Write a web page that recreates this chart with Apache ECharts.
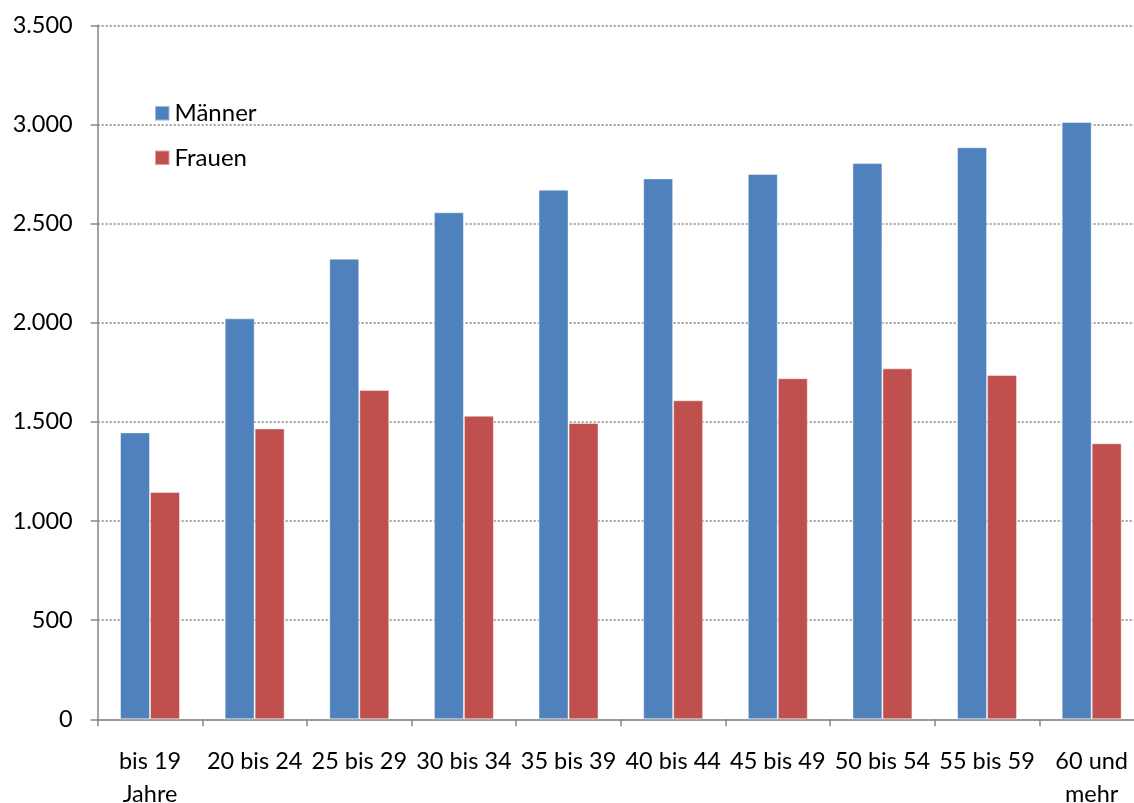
<!DOCTYPE html>
<html>
<head>
<meta charset="utf-8">
<script src="https://cdn.jsdelivr.net/npm/echarts@6/dist/echarts.min.js"></script>
<style>
  html, body { margin: 0; padding: 0; background: #fff; }
  #chart { width: 1134px; height: 803px; }
</style>
</head>
<body>
<div id="chart"></div>
<script>
// Altersgruppen
const categories = ['bis 19\nJahre', '20 bis 24', '25 bis 29', '30 bis 34', '35 bis 39',
  '40 bis 44', '45 bis 49', '50 bis 54', '55 bis 59', '60 und\nmehr'];
const maenner = [1447, 2022, 2323, 2557, 2671, 2728, 2750, 2805, 2885, 3012];
const frauen  = [1146, 1467, 1661, 1531, 1494, 1609, 1720, 1770, 1736, 1392];
const seriesNames = ['Männer', 'Frauen'];

const FONT = 'Lato, "Open Sans", sans-serif';
const AXIS_GRAY = '#868686';

// thousands separator "." (German style)
function fmt(v) {
  return String(v).replace(/\B(?=(\d{3})+(?!\d))/g, '.');
}

const chart = echarts.init(document.getElementById('chart'), null, { renderer: 'canvas' });
chart.setOption({
  animation: false,
  backgroundColor: '#ffffff',
  textStyle: { fontFamily: FONT },
  grid: { left: 97.7, right: -10, top: 25.3, bottom: 83.7, outerBoundsMode: 'none' },
  legend: {
    orient: 'vertical',
    left: 154,
    top: 98.3,
    padding: 0,
    itemWidth: 14.5,
    itemHeight: 14.5,
    itemGap: 14.5,
    icon: 'rect',
    textStyle: { fontFamily: FONT, fontSize: 24, lineHeight: 30, color: '#000' },
    data: seriesNames
  },
  xAxis: {
    type: 'category',
    data: categories,
    axisLine: { show: true, lineStyle: { color: AXIS_GRAY, width: 1.5 } },
    axisTick: { show: true, interval: 0, length: 7, lineStyle: { color: AXIS_GRAY, width: 1.5 } },
    axisLabel: {
      interval: 0,
      margin: 26,
      fontFamily: FONT,
      fontSize: 23.5,
      color: '#000',
      lineHeight: 33
    }
  },
  yAxis: {
    type: 'value',
    min: 0,
    max: 3500,
    interval: 500,
    axisLine: { show: true, lineStyle: { color: AXIS_GRAY, width: 1.5 } },
    axisTick: { show: true, length: 7, lineStyle: { color: AXIS_GRAY, width: 1.5 } },
    axisLabel: {
      margin: 25,
      fontFamily: FONT,
      fontSize: 23.5,
      color: '#000',
      formatter: fmt
    },
    splitLine: {
      show: true,
      lineStyle: { color: AXIS_GRAY, width: 1.5, type: [2, 2] }
    }
  },
  series: [
    {
      name: seriesNames[0],
      type: 'bar',
      data: maenner,
      barWidth: 30,
      barGap: '0%',
      itemStyle: { color: '#4F81BD', borderColor: 'rgba(255,255,255,0.45)', borderWidth: 1 }
    },
    {
      name: seriesNames[1],
      type: 'bar',
      data: frauen,
      barWidth: 30,
      barGap: '0%',
      itemStyle: { color: '#C0504D', borderColor: 'rgba(255,255,255,0.45)', borderWidth: 1 }
    }
  ]
});
</script>
</body>
</html>
